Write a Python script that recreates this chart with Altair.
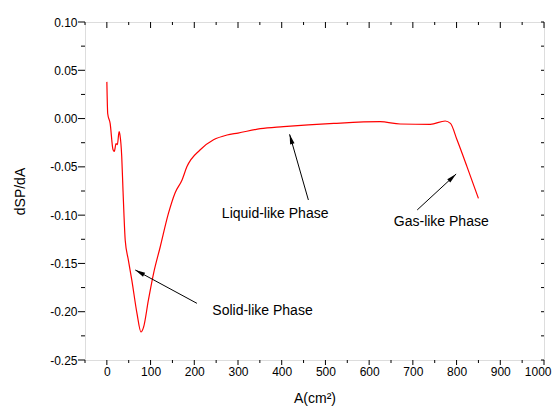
import math
import altair as alt
import pandas as pd

# --- data ---
area = [0, 2, 7.5, 14, 17, 21, 24, 28, 30, 34, 37, 39, 42, 49, 57, 69, 78, 84, 95, 107,
        122, 141, 156, 172, 183, 213, 244, 275, 300, 351, 404, 519, 625, 671, 740, 774,
        786, 801, 824, 850]
dspda = [0.038, 0.005, -0.005, -0.032, -0.034, -0.026, -0.027, -0.0136, -0.017, -0.039,
         -0.075, -0.098, -0.126, -0.146, -0.167, -0.202, -0.221, -0.216, -0.188, -0.160,
         -0.133, -0.098, -0.077, -0.0636, -0.050, -0.0325, -0.022, -0.017, -0.015, -0.0105,
         -0.0084, -0.005, -0.0032, -0.0056, -0.006, -0.0025, -0.005, -0.022, -0.050, -0.0826]

labels = ["Liquid-like Phase", "Gas-like Phase", "Solid-like Phase"]
label_x = [385, 765, 356]
label_y = [-0.0985, -0.1075, -0.1995]
tail_x = [461, 710, 206]
tail_y = [-0.0843, -0.0946, -0.1913]
tip_x = [418, 799, 65]
tip_y = [-0.0163, -0.0574, -0.1568]

x_major = list(range(0, 1001, 100))
x_minor = list(range(-50, 1001, 100))
y_major = [-0.25, -0.20, -0.15, -0.10, -0.05, 0.0, 0.05, 0.10]
y_minor = [-0.225, -0.175, -0.125, -0.075, -0.025, 0.025, 0.075]

W, H = 459, 338
XDOM = [-50, 1000]
YDOM = [-0.25, 0.10]
sx = W / (XDOM[1] - XDOM[0])
sy = H / (YDOM[1] - YDOM[0])

curve = pd.DataFrame({"A": area, "v": dspda, "i": range(len(area))})
ann = pd.DataFrame({"label": labels, "lx": label_x, "ly": label_y,
                    "tx": tail_x, "ty": tail_y, "hx": tip_x, "hy": tip_y})
ann["angle"] = [
    (math.degrees(math.atan2((hx - tx) * sx, (hy - ty) * sy)) + 360) % 360
    for tx, ty, hx, hy in zip(tail_x, tail_y, tip_x, tip_y)
]
xmaj = pd.DataFrame({"t": x_major})
xmin = pd.DataFrame({"t": x_minor})
ymaj = pd.DataFrame({"t": y_major})
ymin = pd.DataFrame({"t": y_minor})
yall = pd.DataFrame({"t": y_major + y_minor})

FONT = "Liberation Sans"
xs = alt.Scale(domain=XDOM, nice=False, zero=False)
ys = alt.Scale(domain=YDOM, nice=False, zero=False)

x_axis = alt.Axis(
    values=x_major, orient="bottom", grid=False, domain=False, ticks=False, tickSize=0,
    labelExpr="format(datum.value, 'd')",
    labelFont=FONT, labelFontSize=12, labelColor="black", labelPadding=6,
    title="A(cm²)", titleFont=FONT, titleFontSize=14, titleFontWeight="normal",
    titleColor="black", titlePadding=14, labelFlush=True, labelFlushOffset=7,
)
y_axis = alt.Axis(
    values=y_major, orient="left", grid=False, domain=False, ticks=False, tickSize=0,
    labelExpr="(datum.value < -0.0001 ? '-' : '') + format(abs(datum.value), '.2f')",
    labelFont=FONT, labelFontSize=12, labelColor="black", labelPadding=8,
    title="dSP/dA", titleFont=FONT, titleFontSize=14, titleFontWeight="normal",
    titleColor="black", titlePadding=22, labelFlush=False,
)


def X(field):
    return alt.X(field, type="quantitative", scale=xs, axis=x_axis)


def Y(field):
    return alt.Y(field, type="quantitative", scale=ys, axis=y_axis)


line = alt.Chart(curve).mark_line(color="#ff0000", strokeWidth=1.2, interpolate="monotone").encode(
    x=X("A"), y=Y("v"), order="i:Q",
)


def xticks(df, y0, y1):
    return alt.Chart(df).mark_rule(color="black", strokeWidth=1).encode(
        x=X("t"), y=alt.value(y0), y2=alt.value(y1))


def yticks(df, x0, x1):
    return alt.Chart(df).mark_rule(color="black", strokeWidth=1).encode(
        y=Y("t"), x=alt.value(x0), x2=alt.value(x1))


ticks = [
    xticks(xmaj, H, H + 5), xticks(xmin, H, H + 3),
    xticks(xmaj, 0, 6), xticks(xmin, 0, 3),
    yticks(ymaj, 0, -7), yticks(ymin, 0, -4),
    yticks(yall, W, W - 3),
]

arrows = alt.Chart(ann).mark_rule(color="black", strokeWidth=1).encode(
    x=X("tx"), y=Y("ty"), x2="hx:Q", y2="hy:Q",
)

heads = alt.Chart(ann).mark_point(
    shape="M0,0L-0.45,2L0.45,2Z", filled=True, color="black", size=100, opacity=1
).encode(
    x=X("hx"), y=Y("hy"),
    angle=alt.Angle("angle:Q", scale=None),
)

texts = alt.Chart(ann).mark_text(font=FONT, fontSize=14, color="black").encode(
    x=X("lx"), y=Y("ly"), text="label:N",
)

chart = alt.layer(line, *ticks, arrows, heads, texts).properties(
    width=W, height=H,
    autosize=alt.AutoSizeParams(type="none"),
    padding={"left": 77, "top": 14, "right": 8, "bottom": 49},
).configure_view(stroke="black", strokeWidth=1).configure(background="white")

chart.save("out.html", embed_options={"renderer": "svg", "actions": False})
